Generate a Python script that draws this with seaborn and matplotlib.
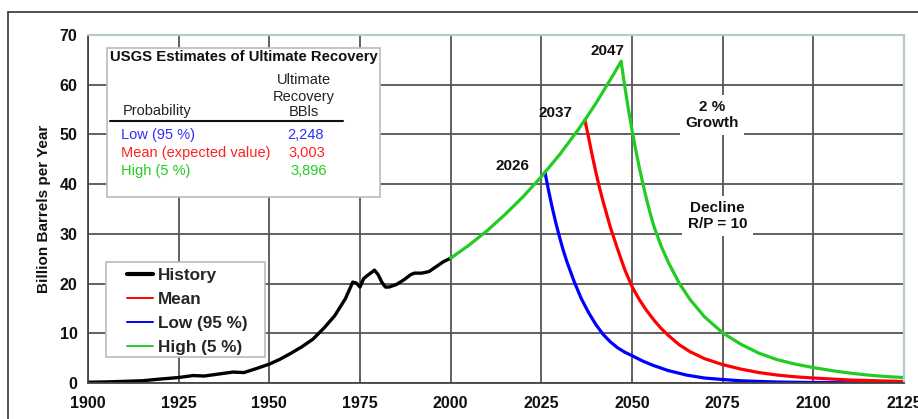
import matplotlib
matplotlib.use("Agg")
import matplotlib.pyplot as plt
from matplotlib.lines import Line2D
from matplotlib.patches import Rectangle
import seaborn as sns

# ---- data (billion barrels per year) ----
history_years = [1900, 1905, 1910, 1915, 1920, 1925, 1929, 1932, 1936, 1940, 1943, 1946,
                 1950, 1953, 1956, 1959, 1962, 1965, 1968, 1971, 1973, 1974, 1975, 1976,
                 1977, 1979, 1980, 1981, 1982, 1983, 1985, 1987, 1989, 1990, 1992, 1994,
                 1996, 1998, 2000]
history_vals = [0.15, 0.22, 0.33, 0.45, 0.8, 1.1, 1.5, 1.4, 1.8, 2.2, 2.1, 2.8,
                3.8, 4.8, 6.0, 7.3, 8.8, 11.0, 13.5, 17.0, 20.3, 20.1, 19.3, 21.0,
                21.6, 22.7, 21.8, 20.3, 19.3, 19.3, 19.8, 20.7, 21.8, 22.1, 22.1, 22.4,
                23.4, 24.4, 25.1]

growth_years = [2000, 2005, 2010, 2015, 2020, 2025, 2026, 2030, 2035, 2037, 2040, 2045, 2047]
growth_vals = [25.1, 27.7, 30.6, 33.9, 37.5, 41.5, 42.4, 45.9, 50.8, 52.9, 56.2, 62.2, 64.7]

low_years = [2026, 2027, 2028, 2029, 2030, 2031, 2032, 2034, 2036, 2038, 2040, 2042, 2044,
             2046, 2048, 2050, 2053, 2056, 2060, 2065, 2070, 2075, 2080, 2090, 2100, 2110, 2125]
low_vals = [42.4, 38.7, 35.3, 32.2, 29.4, 26.8, 24.5, 20.5, 17.0, 14.2, 11.8, 9.8, 8.3,
            7.1, 6.2, 5.5, 4.4, 3.5, 2.5, 1.6, 1.0, 0.7, 0.45, 0.2, 0.1, 0.05, 0.02]

mean_years = [2037, 2038, 2039, 2040, 2041, 2042, 2044, 2046, 2048, 2050, 2052, 2054, 2056,
              2058, 2060, 2063, 2066, 2070, 2075, 2080, 2085, 2090, 2095, 2100, 2110, 2125]
mean_vals = [52.9, 49.5, 45.9, 42.5, 39.4, 36.6, 31.4, 27.0, 22.8, 19.4, 16.8, 14.6, 12.7,
             11.0, 9.6, 7.7, 6.3, 4.9, 3.7, 2.8, 2.1, 1.6, 1.25, 1.0, 0.6, 0.3]

high_years = [2047, 2048, 2049, 2050, 2051, 2052, 2053, 2054, 2055, 2056, 2058, 2060, 2063,
              2066, 2070, 2075, 2080, 2085, 2090, 2095, 2100, 2105, 2110, 2115, 2120, 2125]
high_vals = [64.7, 59.7, 55.1, 50.9, 47.0, 43.4, 40.1, 37.0, 34.2, 31.6, 27.6, 24.3, 20.1,
             16.8, 13.3, 10.1, 7.8, 6.0, 4.7, 3.8, 3.1, 2.5, 2.0, 1.6, 1.3, 1.1]

legend_labels = ["History", "Mean", "Low (95 %)", "High (5 %)"]
table_probability = ["Low (95 %)", "Mean (expected value)", "High (5 %)"]
table_recovery = ["2,248", "3,003", "3,896"]
peak_years = [2026, 2037, 2047]

# ---- style ----
sns.set_style("white")
plt.rcParams["font.family"] = ["Liberation Sans", "DejaVu Sans"]

BLUE = "#0000ff"
RED = "#ff0000"
GREEN = "#22cc22"
GRID = "#555555"
INK = "#111111"

W, H = 918, 419
fig = plt.figure(figsize=(W / 100, H / 100), dpi=100)
ax = fig.add_axes([88 / W, 1 - 383 / H, 816 / W, 348 / H])


def fp(x, y):
    """pixel position -> figure fraction"""
    return x / W, 1 - y / H


# ---- lines ----
lw = 2.3
sns.lineplot(x=history_years, y=history_vals, ax=ax, color="black", lw=2.4)
sns.lineplot(x=low_years, y=low_vals, ax=ax, color=BLUE, lw=lw)
sns.lineplot(x=mean_years, y=mean_vals, ax=ax, color=RED, lw=lw)
sns.lineplot(x=high_years, y=high_vals, ax=ax, color=GREEN, lw=lw)
sns.lineplot(x=growth_years, y=growth_vals, ax=ax, color=GREEN, lw=lw)

ax.set_xlim(1900, 2125)
ax.set_ylim(0, 70)
ax.set_xticks(range(1900, 2126, 25))
ax.set_yticks(range(0, 71, 10))
ax.tick_params(axis="both", direction="out", length=3.5, width=1.2, color=GRID,
               labelsize=11.5, labelcolor=INK)
ax.tick_params(axis="y", pad=4)
ax.tick_params(axis="x", pad=6)
plt.setp(ax.get_xticklabels() + ax.get_yticklabels(), fontweight="bold")

ax.grid(True, color=GRID, lw=1.3)
ax.xaxis.get_gridlines()[-1].set_visible(False)
ax.yaxis.get_gridlines()[-1].set_visible(False)

for side in ["left", "bottom"]:
    ax.spines[side].set_color("#444444")
    ax.spines[side].set_linewidth(1.3)
for side in ["top", "right"]:
    ax.spines[side].set_color("#b9c9c9")
    ax.spines[side].set_linewidth(1.6)

ax.set_xlabel("")
ax.set_ylabel("Billion Barrels per Year", fontsize=11, fontweight="bold",
              labelpad=6, color=INK)

# ---- peak year labels ----
label_pos = [(2016.9, 43.6), (2028.8, 54.3), (2043.1, 66.8)]
for yr, (lx, ly) in zip(peak_years, label_pos):
    ax.text(lx, ly, str(yr), ha="center", va="center", fontsize=11,
            fontweight="bold", color=INK, zorder=6)

# ---- annotation boxes ----
box = dict(boxstyle="square,pad=0.35", fc="white", ec="none")
ax.text(2072.0, 53.9, "2 %\nGrowth", ha="center", va="center", multialignment="center",
        fontsize=11, fontweight="bold", color=INK, linespacing=1.2, bbox=box, zorder=6)
ax.text(2073.6, 33.6, "Decline\nR/P = 10", ha="center", va="center", multialignment="center",
        fontsize=11, fontweight="bold", color=INK, linespacing=1.2, bbox=box, zorder=6)

# ---- USGS table ----
x0, y0 = fp(106.7, 196.7)
fig.add_artist(Rectangle((x0, y0), 273.3 / W, 148.4 / H, transform=fig.transFigure,
                         fc="white", ec="#bbbbbb", lw=1.2, zorder=1))
fig.text(*fp(243.5, 57.5), "USGS Estimates of Ultimate Recovery", ha="center", va="center",
         fontsize=10.7, fontweight="bold", color=INK, zorder=2)
for txt, yy in zip(["Ultimate", "Recovery", "BBls"], [80, 96.5, 112.5]):
    fig.text(*fp(304, yy), txt, ha="center", va="center", fontsize=10.5, color="#222222", zorder=2)
fig.text(*fp(122.7, 111.5), "Probability", ha="left", va="center", fontsize=10.5,
         color="#222222", zorder=2)
fig.add_artist(Line2D([110 / W, 342.7 / W], [1 - 121 / H] * 2, transform=fig.transFigure,
                      color=INK, lw=1.5, zorder=2))
row_colors = ["#2e2eff", "#ff2222", "#22cc22"]
row_y = [135, 152.7, 170.7]
val_x = [305, 307.2, 309.2]
for name, val, c, yy, vx in zip(table_probability, table_recovery, row_colors, row_y, val_x):
    fig.text(*fp(120.7, yy), name, ha="left", va="center", fontsize=10.5, color=c, zorder=2)
    fig.text(*fp(vx, yy), val, ha="center", va="center", fontsize=10.5, color=c, zorder=2)

# ---- legend ----
lx0, ly0 = fp(106, 356.7)
fig.add_artist(Rectangle((lx0, ly0), 159 / W, 95 / H, transform=fig.transFigure,
                         fc="white", ec="#bbbbbb", lw=1.2, zorder=1))
handles = [Line2D([], [], color="black", lw=3.0),
           Line2D([], [], color=RED, lw=1.4),
           Line2D([], [], color=BLUE, lw=1.4),
           Line2D([], [], color=GREEN, lw=1.4)]
fig.legend(handles, legend_labels, loc="upper left", bbox_to_anchor=fp(126.7, 268),
           frameon=False, borderpad=0, borderaxespad=0, handlelength=1.55,
           handletextpad=0.3, labelspacing=0.52,
           prop={"weight": "bold", "size": 12.3})

# ---- outer frame ----
fig.add_artist(Line2D([8 / W, 1.0], [1 - 12 / H] * 2, transform=fig.transFigure,
                      color="#333333", lw=1.2))
fig.add_artist(Line2D([8 / W, 8 / W], [0, 1 - 12 / H], transform=fig.transFigure,
                      color="#333333", lw=1.2))

fig.savefig("out.png", dpi=100)
